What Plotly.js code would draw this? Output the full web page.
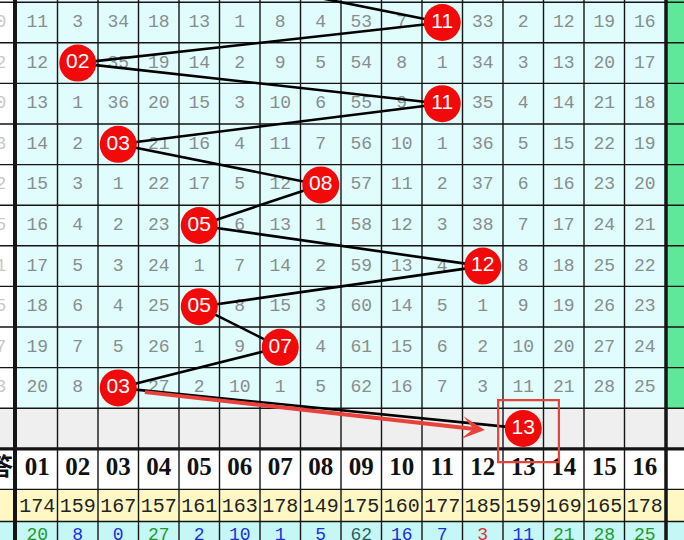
<!DOCTYPE html>
<html><head><meta charset="utf-8">
<script src="https://cdn.plot.ly/plotly-3.0.1.min.js"></script>
<style>html,body{margin:0;padding:0;background:#fff;overflow:hidden}#chart{width:684px;height:540px}</style>
</head><body><div id="chart"></div>
<script>
// ---------------- data ----------------
const columns = ['01','02','03','04','05','06','07','08','09','10','11','12','13','14','15','16'];
// visible tail of the (cut-off) period labels at the far left
const periodTails = ['0','2','0','3','2','5','1','5','7','3'];
const headerTail = '答';
// omission counts per drawn row (null = winning number, drawn as a ball)
const row1  = [11,3,34,18,13,1,8,4,53,7,null,33,2,12,19,16];
const row2  = [12,null,35,19,14,2,9,5,54,8,1,34,3,13,20,17];
const row3  = [13,1,36,20,15,3,10,6,55,9,null,35,4,14,21,18];
const row4  = [14,2,null,21,16,4,11,7,56,10,1,36,5,15,22,19];
const row5  = [15,3,1,22,17,5,12,null,57,11,2,37,6,16,23,20];
const row6  = [16,4,2,23,null,6,13,1,58,12,3,38,7,17,24,21];
const row7  = [17,5,3,24,1,7,14,2,59,13,4,null,8,18,25,22];
const row8  = [18,6,4,25,null,8,15,3,60,14,5,1,9,19,26,23];
const row9  = [19,7,5,26,1,9,null,4,61,15,6,2,10,20,27,24];
const row10 = [20,8,null,27,2,10,1,5,62,16,7,3,11,21,28,25];
const omissionRows = [row1,row2,row3,row4,row5,row6,row7,row8,row9,row10];
// winning number per row (row 0 is the partly visible row above the top edge)
const winners = [6,11,2,11,3,8,5,12,5,7,3];
const predicted = 13;
const hotCounts   = [174,159,167,157,161,163,178,149,175,160,177,185,159,169,165,178];
const currentMiss = [20,8,0,27,2,10,1,5,62,16,7,3,11,21,28,25];

// ---------------- styles ----------------
const missColors = ['#1f9a2a','#1d2fd8','#1d2fd8','#1f9a2a','#1d2fd8','#1d2fd8','#1d2fd8','#1d2fd8',
                    '#2c5f5f','#1d2fd8','#1d2fd8','#e03030','#1d2fd8','#1f9a2a','#1f9a2a','#1f9a2a'];
const W = 684, H = 540, X0 = 17, CW = 40.5, Y0 = 22.5, RH = 40.6;
const cx = px => 0.5 + (px - X0) / CW;     // page pixel -> column units (framing only)
const ry = py => 1 + (py - Y0) / RH;       // page pixel -> row units (framing only)
const XL = cx(0), XR = cx(W), YT = ry(0), YB = ry(H);
const yYellowEnd = ry(521.5);
const nCols = columns.length, nRows = omissionRows.length;
const grayRow = nRows + 1, headerRow = nRows + 2;

// ---------------- traces ----------------
const tx = [], ty = [], tt = [];
omissionRows.forEach((row, i) => row.forEach((v, j) => {
  if (v !== null) { tx.push(j + 1); ty.push(i + 1); tt.push(String(v)); }
}));
const colIdx = columns.map((_, j) => j + 1);

const traces = [];
traces.push({type:'scatter', mode:'text', x:tx, y:ty, text:tt, hoverinfo:'skip',
  textfont:{family:'Liberation Mono', size:18, color:'#878e8e'}});
traces.push({type:'scatter', mode:'text', x:periodTails.map(()=>cx(1)), y:periodTails.map((_, i)=>i+1),
  text:periodTails, hoverinfo:'skip', cliponaxis:true,
  textfont:{family:'Liberation Mono', size:18, color:'#c8c8c8'}});
traces.push({type:'scatter', mode:'text', x:[cx(1)], y:[headerRow], text:[headerTail], hoverinfo:'skip',
  textfont:{family:'Noto Sans CJK SC', size:24, color:'#111', weight:'bold'}});
traces.push({type:'scatter', mode:'text', x:colIdx, y:columns.map(()=>headerRow), text:columns, hoverinfo:'skip',
  textfont:{family:'Liberation Serif', size:25, color:'#111', weight:'bold'}});
traces.push({type:'scatter', mode:'text', x:colIdx, y:hotCounts.map(()=>ry(506.5)), text:hotCounts.map(String), hoverinfo:'skip',
  textfont:{family:'Liberation Mono', size:20, color:'#222'}});
traces.push({type:'scatter', mode:'text', x:colIdx, y:currentMiss.map(()=>ry(535)), text:currentMiss.map(String), hoverinfo:'skip',
  textfont:{family:'Liberation Mono', size:18, color:missColors}});

const ballX = winners.concat([predicted]);
const ballY = ballX.map((_, i) => i);
traces.push({type:'scatter', mode:'lines', x:ballX, y:ballY, hoverinfo:'skip',
  line:{color:'#000', width:2.6}});
traces.push({type:'scatter', mode:'markers+text', x:ballX, y:ballY, cliponaxis:false,
  text:ballX.map(c => columns[c-1]), textposition:'middle center', hoverinfo:'skip',
  marker:{size:37, color:'#f20a0a', line:{width:0}},
  textfont:{family:'Liberation Sans', size:21, color:'#ffffff'}});

// ---------------- layout shapes ----------------
const shapes = [];
const rect = (x0,x1,y0,y1,fill) => shapes.push({type:'rect', layer:'below', xref:'x', yref:'y',
  x0, x1, y0, y1, fillcolor:fill, line:{width:0}});
const line = (x0,x1,y0,y1,w,c,layer) => shapes.push({type:'line', layer:layer||'below', xref:'x', yref:'y',
  x0, x1, y0, y1, line:{color:c||'#151515', width:w}});

rect(XL, 0.5, YT, nRows + 0.5, '#ffffff');
rect(0.5, nCols + 0.5, YT, nRows + 0.5, '#e0fcfc');
rect(nCols + 0.5, XR, YT, nRows + 0.5, '#5fe89a');
rect(XL, XR, nRows + 0.5, grayRow + 0.5, '#efefef');
rect(XL, XR, grayRow + 0.5, headerRow + 0.5, '#ffffff');
rect(XL, XR, headerRow + 0.5, yYellowEnd, '#fff8c4');
rect(XL, XR, yYellowEnd, YB, '#c6f7f7');

for (let k = 1; k < nCols; k++) line(k + 0.5, k + 0.5, YT, YB, 1.4);
for (let k = 0; k <= headerRow; k++) if (k !== grayRow) line(XL, XR, k + 0.5, k + 0.5, 1.4);
line(XL, XR, yYellowEnd, yYellowEnd, 1.4);
line(XL, XR, grayRow + 0.5, grayRow + 0.5, 3.2);
line(cx(15), cx(15), YT, YB, 4);
line(cx(666), cx(666), YT, YB, 3.5);

// highlight box around the predicted ball
const hl = '#e8423a';
shapes.push({type:'rect', layer:'above', xref:'x', yref:'y',
  x0:predicted - 0.62, x1:predicted + 0.88, y0:grayRow - 0.7, y1:grayRow + 0.83,
  line:{color:hl, width:2.2}, fillcolor:'rgba(0,0,0,0)'});

const lastRow = nRows, lastCol = winners[winners.length - 1];
const annotations = [{
  xref:'x', yref:'y', axref:'x', ayref:'y',
  x: predicted - 0.95, y: grayRow + 0.04,
  ax: lastCol + 0.62, ay: lastRow + 0.1,
  text:'', showarrow:true, arrowhead:3, arrowsize:0.95, arrowwidth:4, arrowcolor:hl, standoff:0, startstandoff:0
}];

const layout = {
  width:W, height:H, margin:{l:0,r:0,t:0,b:0,pad:0},
  paper_bgcolor:'#ffffff', plot_bgcolor:'#ffffff', showlegend:false,
  xaxis:{range:[XL, XR], visible:false, fixedrange:true},
  yaxis:{range:[YB, YT], visible:false, fixedrange:true},
  shapes, annotations
};
Plotly.newPlot('chart', traces, layout, {staticPlot:true, displayModeBar:false});
</script>
</body></html>
